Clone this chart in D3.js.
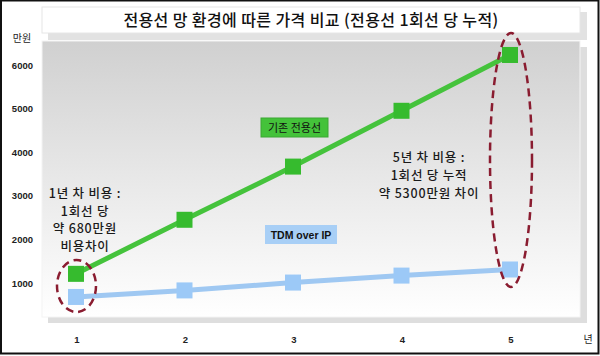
<!DOCTYPE html>
<html>
<head>
<meta charset="utf-8">
<script src="https://cdn.jsdelivr.net/npm/d3@7"></script>
<style>
  body { margin: 0; background: #fff; }
  svg { display: block; }
  .kr { font-family: "Noto Sans CJK KR", "Noto Sans", sans-serif; }
  .num { font-family: "Liberation Sans", Arial, sans-serif; font-weight: bold; }
</style>
</head>
<body>
<div id="chart"></div>
<script>
// data
var years = [1, 2, 3, 4, 5];
var yearLabels = ['1', '2', '3', '4', '5'];
var leasedLine = [1210, 2450, 3670, 4950, 6230];   // 기존 전용선
var tdmOverIp = [680, 830, 1010, 1170, 1310];       // TDM over IP
var yTicks = [1000, 2000, 3000, 4000, 5000, 6000];
var noteYear1 = ['1년 차 비용 :', '1회선 당', '약 680만원', '비용차이'];
var noteYear5 = ['5년 차 비용 :', '1회선 당 누적', '약 5300만원 차이'];

var W = 600, H = 356;
var svg = d3.select('#chart').append('svg').attr('width', W).attr('height', H);

var x = d3.scaleLinear().domain([1, 5]).range([76, 510]);
var y = d3.scaleLinear().domain([1000, 6000]).range([283, 65]);

var defs = svg.append('defs');
var grad = defs.append('linearGradient').attr('id', 'bg').attr('x1', 0).attr('y1', 0).attr('x2', 0).attr('y2', 1);
grad.append('stop').attr('offset', '0%').attr('stop-color', '#d0d0d0');
grad.append('stop').attr('offset', '50%').attr('stop-color', '#e8e8e8');
grad.append('stop').attr('offset', '100%').attr('stop-color', '#ffffff');

// title box + shadow
svg.append('rect').attr('x', 48).attr('y', 12).attr('width', 539).attr('height', 28).attr('fill', '#e2e2e2');
svg.append('rect').attr('x', 42).attr('y', 7).attr('width', 538).attr('height', 26)
  .attr('fill', '#ffffff').attr('stroke', '#e6e6e6');
svg.append('text').attr('class', 'kr').attr('x', 311).attr('y', 26)
  .attr('text-anchor', 'middle').attr('font-size', 16).attr('font-weight', 500)
  .attr('letter-spacing', 0.4).attr('fill', '#111')
  .text('전용선 망 환경에 따른 가격 비교 (전용선 1회선 당 누적)');

// plot panel + shadow
svg.append('rect').attr('x', 48).attr('y', 47).attr('width', 539).attr('height', 276).attr('fill', '#dedede');
svg.append('rect').attr('x', 42).attr('y', 41).attr('width', 538).attr('height', 276)
  .attr('fill', 'url(#bg)').attr('stroke', '#f4f4f4');

// y axis labels
svg.append('text').attr('class', 'kr').attr('x', 22).attr('y', 42).attr('text-anchor', 'middle')
  .attr('font-size', 10).attr('fill', '#222').text('만원');
svg.selectAll('.ytick').data(yTicks).enter().append('text')
  .attr('class', 'num').attr('x', 33).attr('y', function(d){ return y(d) + 3.5; })
  .attr('text-anchor', 'end').attr('font-size', 9.5).attr('fill', '#222')
  .text(function(d){ return d; });

// x axis labels
svg.selectAll('.xtick').data(years).enter().append('text')
  .attr('class', 'num').attr('x', function(d){ return x(d) + 1; }).attr('y', 343)
  .attr('text-anchor', 'middle').attr('font-size', 9.5).attr('fill', '#222')
  .text(function(d, i){ return yearLabels[i]; });
svg.append('text').attr('class', 'kr').attr('x', 588).attr('y', 343).attr('text-anchor', 'middle')
  .attr('font-size', 10).attr('fill', '#222').text('년');

// lines
var line = d3.line().x(function(d, i){ return x(years[i]); }).y(function(d){ return y(d); });
function series(vals, lineCol, markCol) {
  svg.append('path').datum(vals).attr('d', line).attr('fill', 'none')
    .attr('stroke', lineCol).attr('stroke-width', 5);
  svg.selectAll(null).data(vals).enter().append('rect')
    .attr('x', function(d, i){ return x(years[i]) - 8; })
    .attr('y', function(d){ return y(d) - 8; })
    .attr('width', 16).attr('height', 16).attr('fill', markCol);
}
series(tdmOverIp, '#9fc8f2', '#9cc9f7');
series(leasedLine, '#45c33c', '#36bb2e');

// legend-like labels on chart
svg.append('rect').attr('x', 261).attr('y', 118).attr('width', 67).attr('height', 19)
  .attr('fill', '#44c23a').attr('stroke', '#3aa832');
svg.append('text').attr('class', 'kr').attr('x', 294.5).attr('y', 132).attr('text-anchor', 'middle')
  .attr('font-size', 11).attr('fill', '#111').text('기존 전용선');
svg.append('rect').attr('x', 265).attr('y', 225).attr('width', 72).attr('height', 19)
  .attr('fill', '#a8cff6');
svg.append('text').attr('class', 'num').attr('x', 301).attr('y', 238.5).attr('text-anchor', 'middle')
  .attr('font-size', 10.5).attr('fill', '#111').text('TDM over IP');

// annotations
function note(lines, cx, y0, step) {
  var t = svg.append('text').attr('class', 'kr').attr('text-anchor', 'middle')
    .attr('font-size', 12.5).attr('font-weight', 500).attr('letter-spacing', 0.8).attr('fill', '#1a1a1a');
  t.selectAll('tspan').data(lines).enter().append('tspan')
    .attr('x', cx).attr('y', function(d, i){ return y0 + i * step; }).text(function(d){ return d; });
}
note(noteYear1, 85, 198, 17.5);
note(noteYear5, 429, 162, 17.8);

// dashed ellipses
svg.append('ellipse').attr('cx', 76.5).attr('cy', 286).attr('rx', 19.5).attr('ry', 26)
  .attr('fill', 'none').attr('stroke', '#8a1c30').attr('stroke-width', 2.5).attr('stroke-dasharray', '8,5');
svg.append('ellipse').attr('cx', 511).attr('cy', 160).attr('rx', 21).attr('ry', 127)
  .attr('fill', 'none').attr('stroke', '#8a1c30').attr('stroke-width', 2.5).attr('stroke-dasharray', '8,5');

// outer frame
svg.append('rect').attr('x', 1).attr('y', 0.5).attr('width', 597.5).attr('height', 353)
  .attr('fill', 'none').attr('stroke', '#111').attr('stroke-width', 2);
</script>
</body>
</html>
